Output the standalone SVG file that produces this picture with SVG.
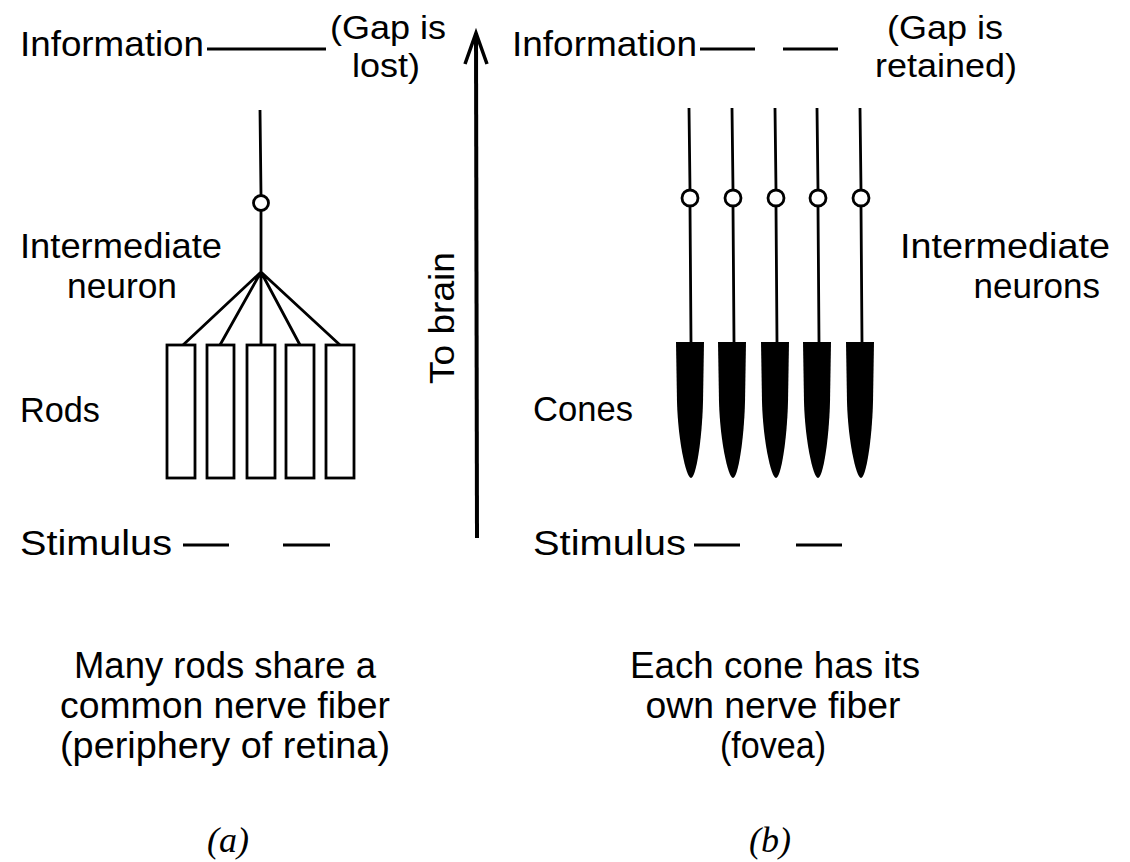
<svg xmlns="http://www.w3.org/2000/svg" width="1130" height="862" viewBox="0 0 1130 862">
<style>
text{font-family:"Liberation Sans",Arial,sans-serif;font-size:35px;fill:#000}
.gap{font-size:33px}
.cap{font-size:36px}
.lbl{font-family:"Liberation Serif","Times New Roman",serif;font-style:italic;font-size:36px}
.ln{stroke:#000;stroke-width:2.8;fill:none}
.dash{stroke:#000;stroke-width:3;fill:none}
.rod{stroke:#000;stroke-width:2.8;fill:#fff}
.syn{stroke:#000;stroke-width:2.8;fill:#fff}
.cone{fill:#000;stroke:none}
</style>
<defs>
<path id="conePath" d="M -14 0 L 14 0 L 13 60 C 12 98 6 136 1 136 C -4 136 -12 98 -13 60 Z"/>
</defs>
<rect width="1130" height="862" fill="#fff"/>

<g id="panel-a">
  <g id="info-a">
    <text x="20" y="56" textLength="184" lengthAdjust="spacingAndGlyphs">Information</text>
    <line class="dash" x1="207" y1="49" x2="326" y2="49"/>
    <text class="gap" x="330" y="39" textLength="116" lengthAdjust="spacingAndGlyphs">(Gap is</text>
    <text class="gap" x="352" y="77" textLength="68" lengthAdjust="spacingAndGlyphs">lost)</text>
  </g>
  <g id="interneuron-a" text-anchor="middle">
    <text x="121" y="258" textLength="202" lengthAdjust="spacingAndGlyphs">Intermediate</text>
    <text x="122" y="298" textLength="110" lengthAdjust="spacingAndGlyphs">neuron</text>
  </g>
  <g id="rods">
    <text x="20" y="422" textLength="80" lengthAdjust="spacingAndGlyphs">Rods</text>
    <rect class="rod" x="167" y="345" width="28" height="133"/>
    <rect class="rod" x="207" y="345" width="27" height="133"/>
    <rect class="rod" x="247" y="345" width="28" height="133"/>
    <rect class="rod" x="286" y="345" width="28" height="133"/>
    <rect class="rod" x="326" y="345" width="28" height="133"/>
  </g>
  <g id="stimulus-a">
    <text x="20" y="555" textLength="152" lengthAdjust="spacingAndGlyphs">Stimulus</text>
    <line class="dash" x1="183" y1="545" x2="229" y2="545"/>
    <line class="dash" x1="283" y1="545" x2="330" y2="545"/>
  </g>
  <g id="caption-a" text-anchor="middle">
    <text class="cap" x="225" y="678" textLength="302" lengthAdjust="spacingAndGlyphs">Many rods share a</text>
    <text class="cap" x="225" y="718" textLength="330" lengthAdjust="spacingAndGlyphs">common nerve fiber</text>
    <text class="cap" x="225" y="758" textLength="330" lengthAdjust="spacingAndGlyphs">(periphery of retina)</text>
    <text class="lbl" x="228" y="852">(a)</text>
  </g>
</g>

<g id="to-brain">
  <line x1="477" y1="538" x2="476" y2="36" stroke="#000" stroke-width="4"/>
  <polyline points="465,64 476,33 487,64" fill="none" stroke="#000" stroke-width="3.5"/>
  <text transform="translate(454,318) rotate(-90)" text-anchor="middle" textLength="132" lengthAdjust="spacingAndGlyphs">To brain</text>
</g>

<g id="panel-b">
  <g id="info-b">
    <text x="512" y="56" textLength="185" lengthAdjust="spacingAndGlyphs">Information</text>
    <line class="dash" x1="700" y1="49" x2="755" y2="49"/>
    <line class="dash" x1="783" y1="49" x2="838" y2="49"/>
    <text class="gap" x="887" y="39" textLength="116" lengthAdjust="spacingAndGlyphs">(Gap is</text>
    <text class="gap" x="875" y="77" textLength="142" lengthAdjust="spacingAndGlyphs">retained)</text>
  </g>
  <g id="interneuron-b">
    <text x="900" y="258" textLength="210" lengthAdjust="spacingAndGlyphs">Intermediate</text>
    <text x="1100" y="298" text-anchor="end">neurons</text>
  </g>
  <g id="cones">
    <text x="533" y="421" textLength="100" lengthAdjust="spacingAndGlyphs">Cones</text>
    <use href="#conePath" class="cone" transform="translate(690,342)"/>
    <use href="#conePath" class="cone" transform="translate(732,342)"/>
    <use href="#conePath" class="cone" transform="translate(775,342)"/>
    <use href="#conePath" class="cone" transform="translate(817,342)"/>
    <use href="#conePath" class="cone" transform="translate(860,342)"/>
  </g>
  <g id="stimulus-b">
    <text x="533" y="555" textLength="153" lengthAdjust="spacingAndGlyphs">Stimulus</text>
    <line class="dash" x1="694" y1="545" x2="740" y2="545"/>
    <line class="dash" x1="796" y1="545" x2="842" y2="545"/>
  </g>
  <g id="caption-b" text-anchor="middle">
    <text class="cap" x="775" y="678" textLength="290" lengthAdjust="spacingAndGlyphs">Each cone has its</text>
    <text class="cap" x="773" y="718" textLength="255" lengthAdjust="spacingAndGlyphs">own nerve fiber</text>
    <text class="cap" x="773" y="758" textLength="106" lengthAdjust="spacingAndGlyphs">(fovea)</text>
    <text class="lbl" x="770" y="852">(b)</text>
  </g>
</g>

<g id="connectors">
  <path class="ln" d="M260 110 L261 195 M261 211 L261 272 L183 345 M261 272 L220 345 M261 272 L261 345 M261 272 L300 345 M261 272 L340 345"/>
  <circle class="syn" cx="261" cy="203" r="7.5"/>
  <path class="ln" d="M689 108 L690 190 M690 206 L691 342 M732 108 L733 190 M733 206 L734 342 M775 108 L776 190 M776 206 L777 342 M817 108 L818 190 M818 206 L819 342 M860 108 L861 190 M861 206 L862 342"/>
  <circle class="syn" cx="690" cy="198" r="8"/>
  <circle class="syn" cx="733" cy="198" r="8"/>
  <circle class="syn" cx="776" cy="198" r="8"/>
  <circle class="syn" cx="818" cy="198" r="8"/>
  <circle class="syn" cx="861" cy="198" r="8"/>
</g>
</svg>
